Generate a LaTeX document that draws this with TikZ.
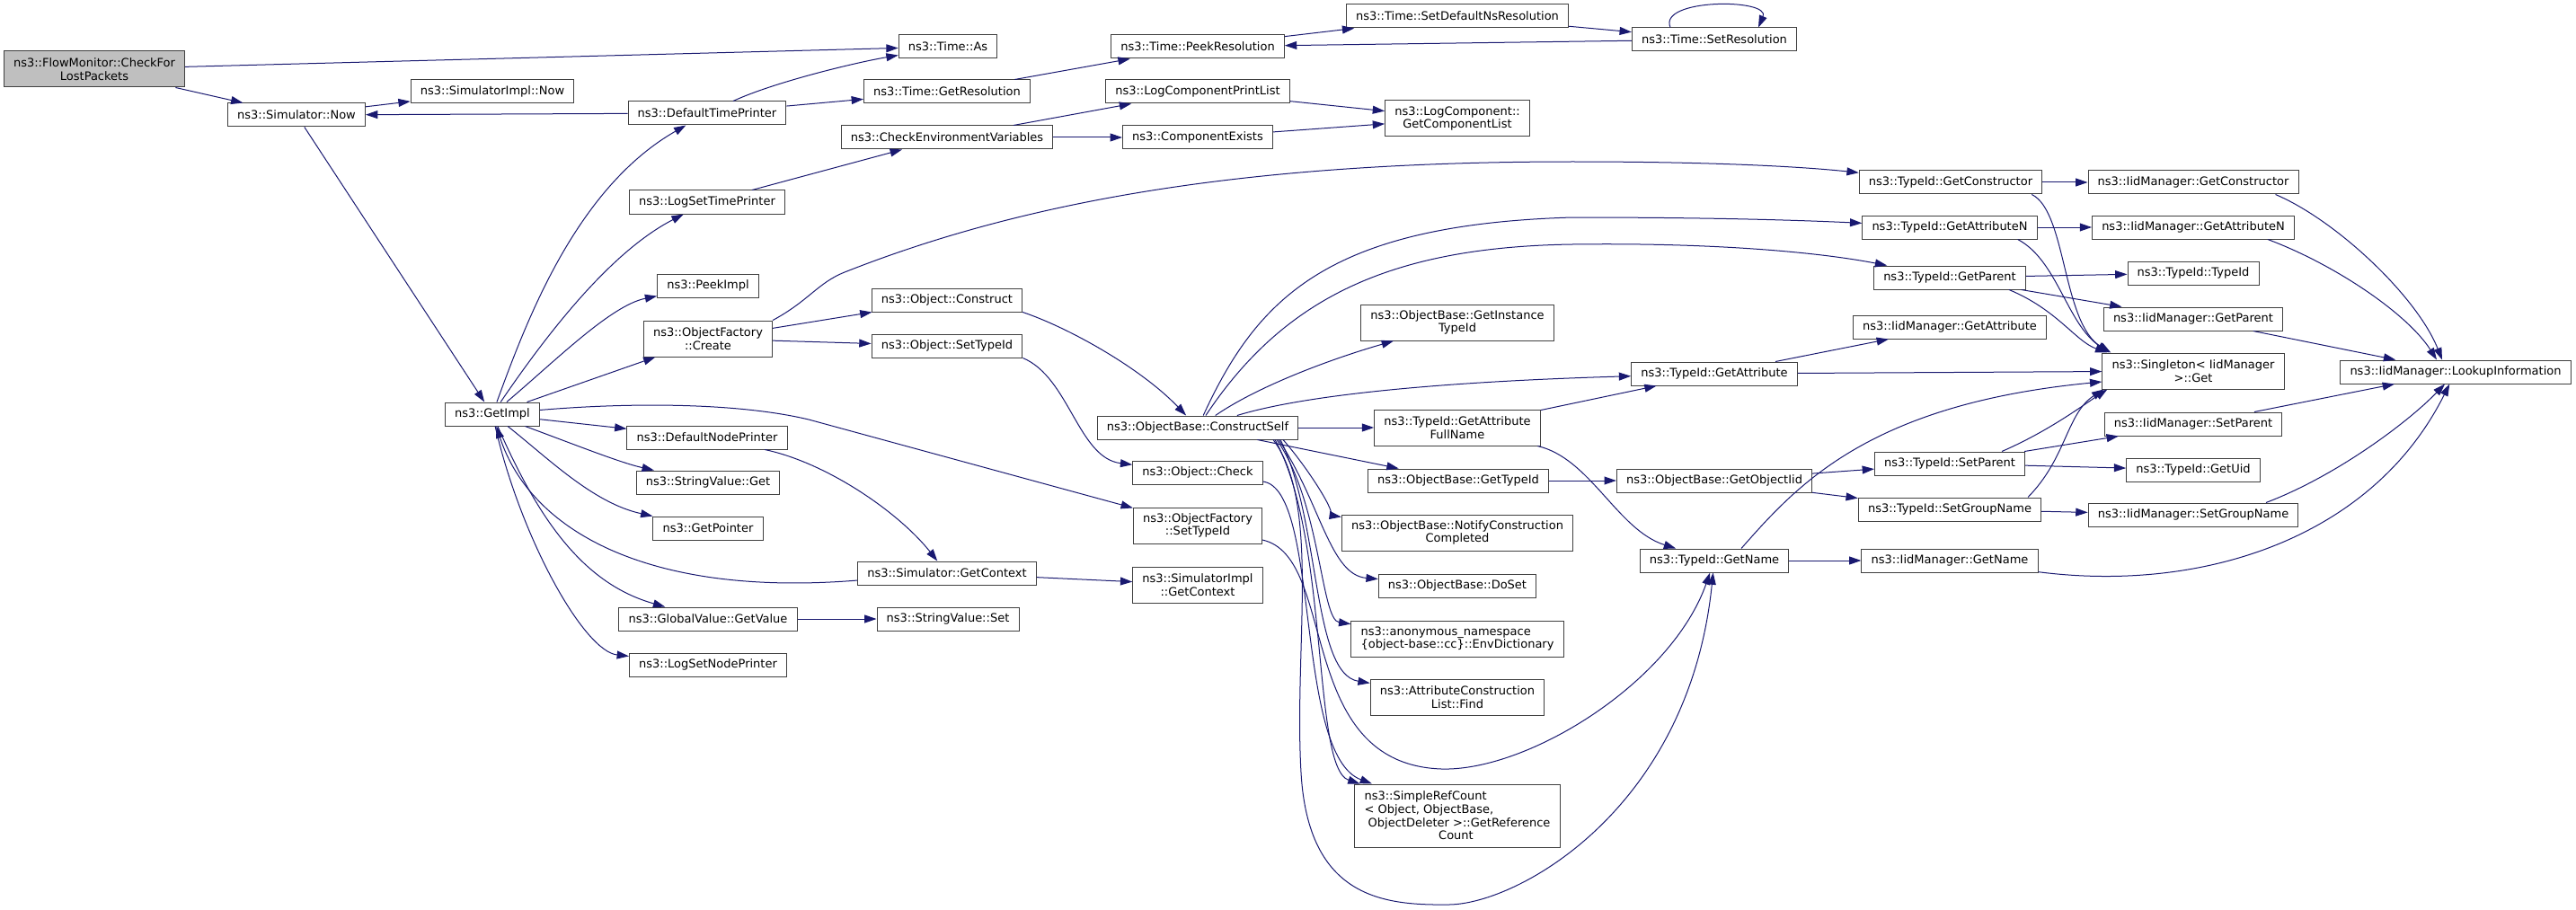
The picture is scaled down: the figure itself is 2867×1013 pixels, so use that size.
\documentclass[tikz,border=0pt]{standalone}
\usepackage{fontspec}
\setmainfont{DejaVu Sans}
\usepackage{tikz}
\usetikzlibrary{arrows.meta,calc}
\definecolor{callblue}{HTML}{191970}

\begin{document}
\begin{tikzpicture}[x=0.75pt,y=-0.75pt]
			\tikzstyle{Func}	= [draw=black!75, fill=white, line width=0.75pt, inner xsep=8pt, inner ysep=1pt, minimum height=19.5pt, align=center, font=\fontsize{9.75}{11}\selectfont]
			\tikzstyle{Two}		= [minimum height=30pt]
			\tikzstyle{Root}	= [Func, Two, fill=black!25]
			\tikzstyle{Call}	= [draw=callblue, line width=0.75pt, -{Triangle[length=10pt, width=6.7pt]}]

			\useasboundingbox (0,0) rectangle (2867,1013);

			\node (fm) at (105,77) [Root] {ns3::FlowMonitor::CheckFor\\LostPackets};
			\node (snow) at (330,128) [Func] {ns3::Simulator::Now};
			\node (sinow) at (548,102) [Func] {ns3::SimulatorImpl::Now};
			\node (gimpl) at (548,461) [Func] {ns3::GetImpl};
			\node (dtp) at (787,126) [Func] {ns3::DefaultTimePrinter};
			\node (lstp) at (787,225) [Func] {ns3::LogSetTimePrinter};
			\node (pimpl) at (788,318) [Func] {ns3::PeekImpl};
			\node (ofc) at (788,377) [Func][Two] {ns3::ObjectFactory\\::Create};
			\node (dnp) at (787,487) [Func] {ns3::DefaultNodePrinter};
			\node (svg) at (788,537) [Func] {ns3::StringValue::Get};
			\node (gptr) at (788,588) [Func] {ns3::GetPointer};
			\node (gvgv) at (788,689) [Func] {ns3::GlobalValue::GetValue};
			\node (lsnp) at (788,740) [Func] {ns3::LogSetNodePrinter};
			\node (tas) at (1055,52) [Func] {ns3::Time::As};
			\node (tgr) at (1054,102) [Func] {ns3::Time::GetResolution};
			\node (cev) at (1054,153) [Func] {ns3::CheckEnvironmentVariables};
			\node (ocon) at (1054,334) [Func] {ns3::Object::Construct};
			\node (ostid) at (1054,385) [Func] {ns3::Object::SetTypeId};
			\node (sgc) at (1054,638) [Func] {ns3::Simulator::GetContext};
			\node (svs) at (1055,689) [Func] {ns3::StringValue::Set};
			\node (tpr) at (1333,52) [Func] {ns3::Time::PeekResolution};
			\node (lcpl) at (1333,102) [Func] {ns3::LogComponentPrintList};
			\node (cex) at (1333,153) [Func] {ns3::ComponentExists};
			\node (obcs) at (1333,476) [Func] {ns3::ObjectBase::ConstructSelf};
			\node (ochk) at (1333,526) [Func] {ns3::Object::Check};
			\node (oftid) at (1333,585) [Func][Two] {ns3::ObjectFactory\\::SetTypeId};
			\node (sigc) at (1333,651) [Func][Two] {ns3::SimulatorImpl\\::GetContext};
			\node (tsdn) at (1622,18) [Func] {ns3::Time::SetDefaultNsResolution};
			\node (lcgcl) at (1622,132) [Func][Two] {ns3::LogComponent::\\GetComponentList};
			\node (obgit) at (1622,359) [Func][Two] {ns3::ObjectBase::GetInstance\\TypeId};
			\node (tgafn) at (1622,476) [Func][Two] {ns3::TypeId::GetAttribute\\FullName};
			\node (obgt) at (1623,535) [Func] {ns3::ObjectBase::GetTypeId};
			\node (obncc) at (1622,593) [Func][Two] {ns3::ObjectBase::NotifyConstruction\\Completed};
			\node (obds) at (1622,652) [Func] {ns3::ObjectBase::DoSet};
			\node (envd) at (1622,711) [Func][Two][align=left] {ns3::anonymous\_namespace\\\{object-base::cc\}::EnvDictionary};
			\node (acl) at (1622,776) [Func][Two] {ns3::AttributeConstruction\\List::Find};
			\node (srcgr) at (1622,908) [Func][minimum height=52.5pt][align=left] {ns3::SimpleRefCount\\< Object, ObjectBase,\\\ ObjectDeleter >::GetReference\\\hspace*{62pt}Count};
			\node (tsr) at (1908,44) [Func] {ns3::Time::SetResolution};
			\node (tga) at (1908,416) [Func] {ns3::TypeId::GetAttribute};
			\node (obgoi) at (1908,535) [Func] {ns3::ObjectBase::GetObjectIid};
			\node (tgn) at (1908,624) [Func] {ns3::TypeId::GetName};
			\node (tgc) at (2171,203) [Func] {ns3::TypeId::GetConstructor};
			\node (tgan) at (2170,253) [Func] {ns3::TypeId::GetAttributeN};
			\node (tgp) at (2170,309) [Func] {ns3::TypeId::GetParent};
			\node (imga) at (2170,364) [Func] {ns3::IidManager::GetAttribute};
			\node (tsp) at (2170,516) [Func] {ns3::TypeId::SetParent};
			\node (tsgn) at (2170,567) [Func] {ns3::TypeId::SetGroupName};
			\node (imgn) at (2170,624) [Func] {ns3::IidManager::GetName};
			\node (imgc) at (2441,203) [Func] {ns3::IidManager::GetConstructor};
			\node (imgan) at (2441,253) [Func] {ns3::IidManager::GetAttributeN};
			\node (ttid) at (2441,304) [Func] {ns3::TypeId::TypeId};
			\node (imgp) at (2441,355) [Func] {ns3::IidManager::GetParent};
			\node (sget) at (2441,413) [Func][Two] {ns3::Singleton< IidManager\\ >::Get};
			\node (imsp) at (2441,472) [Func] {ns3::IidManager::SetParent};
			\node (tgu) at (2441,523) [Func] {ns3::TypeId::GetUid};
			\node (imsgn) at (2441,573) [Func] {ns3::IidManager::SetGroupName};
			\node (imli) at (2733,414) [Func] {ns3::IidManager::LookupInformation};

			\draw [Call] (fm) to (tas);
			\draw [Call] (fm) to (snow);
			\draw [Call] (snow) to (sinow);
			\draw [Call] (snow) to (gimpl);
			\draw [Call] (dtp) to (snow);
			\draw [Call] (dtp) .. controls (860,92) and (950,70) .. (tas);
			\draw [Call] (dtp) to (tgr);
			\draw [Call] (tgr) to (tpr);
			\draw [Call] (tpr) to (tsdn);
			\draw [Call] (tsdn) to (tsr);
			\draw [Call] (tsr) to (tpr);
			\draw [Call] ($(tsr.north)+(-49,0)$) .. controls (1845,-2) and (1971,-2) .. ($(tsr.north)+(49,0)$);
			\draw [Call] (lstp) to (cev);
			\draw [Call] (cev) to (lcpl);
			\draw [Call] (cev) to (cex);
			\draw [Call] (lcpl) to (lcgcl);
			\draw [Call] (cex) to (lcgcl);

			\draw [Call] (gimpl) .. controls (585,360) and (640,210) .. (dtp);
			\draw [Call] (gimpl) .. controls (610,370) and (680,280) .. (lstp);
			\draw [Call] (gimpl) .. controls (620,400) and (680,340) .. (pimpl);
			\draw [Call] (gimpl) to (ofc);
			\draw [Call] (gimpl) .. controls (700,448) and (820,448) .. (900,467) -- (oftid);
			\draw [Call] (gimpl) to (dnp);
			\draw [Call] (gimpl) .. controls (640,495) and (690,515) .. (svg);
			\draw [Call] (gimpl) .. controls (610,510) and (660,560) .. (gptr);
			\draw [Call] (sgc) .. controls (720,665) and (590,590) .. (gimpl);
			\draw [Call] (gimpl) .. controls (600,580) and (650,650) .. (gvgv);
			\draw [Call] (gimpl) .. controls (580,600) and (650,725) .. (lsnp);
			\draw [Call] (dnp) .. controls (920,515) and (1000,570) .. (sgc);
			\draw [Call] (sgc) to (sigc);
			\draw [Call] (gvgv) to (svs);

			\draw [Call] (ofc.north east) .. controls (900,335) and (910,315) .. (940,303) .. controls (1150,220) and (1400,180) .. (1750,180) .. controls (1900,180) and (2000,185) .. (tgc);
			\draw [Call] (ofc) to (ocon);
			\draw [Call] (ofc) to (ostid);
			\draw [Call] (ocon.south east) .. controls (1190,365) and (1270,410) .. (obcs);
			\draw [Call] (ostid.south east) .. controls (1190,420) and (1200,510) .. (ochk);

			\draw [Call] (obcs) .. controls (1400,330) and (1480,250) .. (1750,242) .. controls (1900,242) and (2000,245) .. (tgan);
			\draw [Call] (obcs) .. controls (1430,330) and (1550,275) .. (1750,272) .. controls (1900,270) and (2020,280) .. (tgp);
			\draw [Call] (obcs) .. controls (1400,430) and (1480,400) .. (obgit);
			\draw [Call] (obcs) .. controls (1450,440) and (1600,425) .. (tga);
			\draw [Call] (obcs) to (tgafn);
			\draw [Call] (obcs) to (obgt);
			\draw [Call] ($(obcs.south)+(95,0)$) .. controls (1455,520) and (1490,575) .. (obncc);
			\draw [Call] ($(obcs.south)+(90,0)$) .. controls (1470,560) and (1480,640) .. (obds);
			\draw [Call] ($(obcs.south)+(88,0)$) .. controls (1470,560) and (1470,690) .. (envd);
			\draw [Call] ($(obcs.south)+(92,0)$) .. controls (1470,580) and (1460,750) .. (acl);
			\draw [Call] ($(obcs.south)+(86,0)$) .. controls (1480,600) and (1460,855) .. (srcgr);
			\draw [Call] (ochk) .. controls (1470,545) and (1440,840) .. (srcgr);
			\draw [Call] ($(obcs.south)+(84,0)$) .. controls (1470,560) and (1440,720) .. (1448,860) .. controls (1456,1000) and (1540,1008) .. (1613,1007) .. controls (1690,1006) and (1880,900) .. (tgn);
			\draw [Call] (oftid) .. controls (1490,620) and (1440,850) .. (1604,856) .. controls (1700,859) and (1860,760) .. (tgn);

			\draw [Call] (tgc) to (imgc);
			\draw [Call] ($(tgc.south east)+(-12,0)$) .. controls (2300,235) and (2295,360) .. ($(sget.north west)+(10,0)$);
			\draw [Call] (tgan) to (imgan);
			\draw [Call] ($(tgan.south east)+(-22,0)$) .. controls (2290,290) and (2300,360) .. ($(sget.north west)+(8,0)$);
			\draw [Call] (tgp) to (ttid);
			\draw [Call] (tgp) to (imgp);
			\draw [Call] ($(tgp.south east)+(-19,0)$) .. controls (2290,345) and (2310,380) .. ($(sget.north west)+(6,0)$);
			\draw [Call] ($(imgc.south east)+(-26,0)$) .. controls (2600,245) and (2690,330) .. ($(imli.north)+(-15,0)$);
			\draw [Call] ($(imgan.south east)+(-30,0)$) .. controls (2600,295) and (2680,350) .. ($(imli.north)+(-21,0)$);
			\draw [Call] (imgp) to (imli);
			\draw [Call] (tga) to (imga);
			\draw [Call] (tga) to (sget);
			\draw [Call] (tgafn) to (tga);
			\draw [Call] (tgafn) .. controls (1770,510) and (1800,590) .. (tgn);
			\draw [Call] (obgt) to (obgoi);
			\draw [Call] (obgoi) to (tsp);
			\draw [Call] (obgoi) to (tsgn);
			\draw [Call] (tsp) to (imsp);
			\draw [Call] (tsp) to (tgu);
			\draw [Call] ($(tsp.north)+(58,0)$) .. controls (2280,480) and (2320,450) .. ($(sget.south west)+(6,0)$);
			\draw [Call] (tsgn) to (imsgn);
			\draw [Call] ($(tsgn.north)+(87,0)$) .. controls (2300,510) and (2300,460) .. ($(sget.south west)+(2,0)$);
			\draw [Call] (imsp) to (imli);
			\draw [Call] ($(imsgn.north)+(81,0)$) .. controls (2600,530) and (2680,470) .. ($(imli.south)+(-12,0)$);
			\draw [Call] (tgn) to (imgn);
			\draw [Call] ($(tgn.north)+(30,0)$) .. controls (2000,540) and (2080,450) .. ($(sget.west)+(0,12)$);
			\draw [Call] (imgn) .. controls (2450,660) and (2640,600) .. (imli);
		\end{tikzpicture}
\end{document}
